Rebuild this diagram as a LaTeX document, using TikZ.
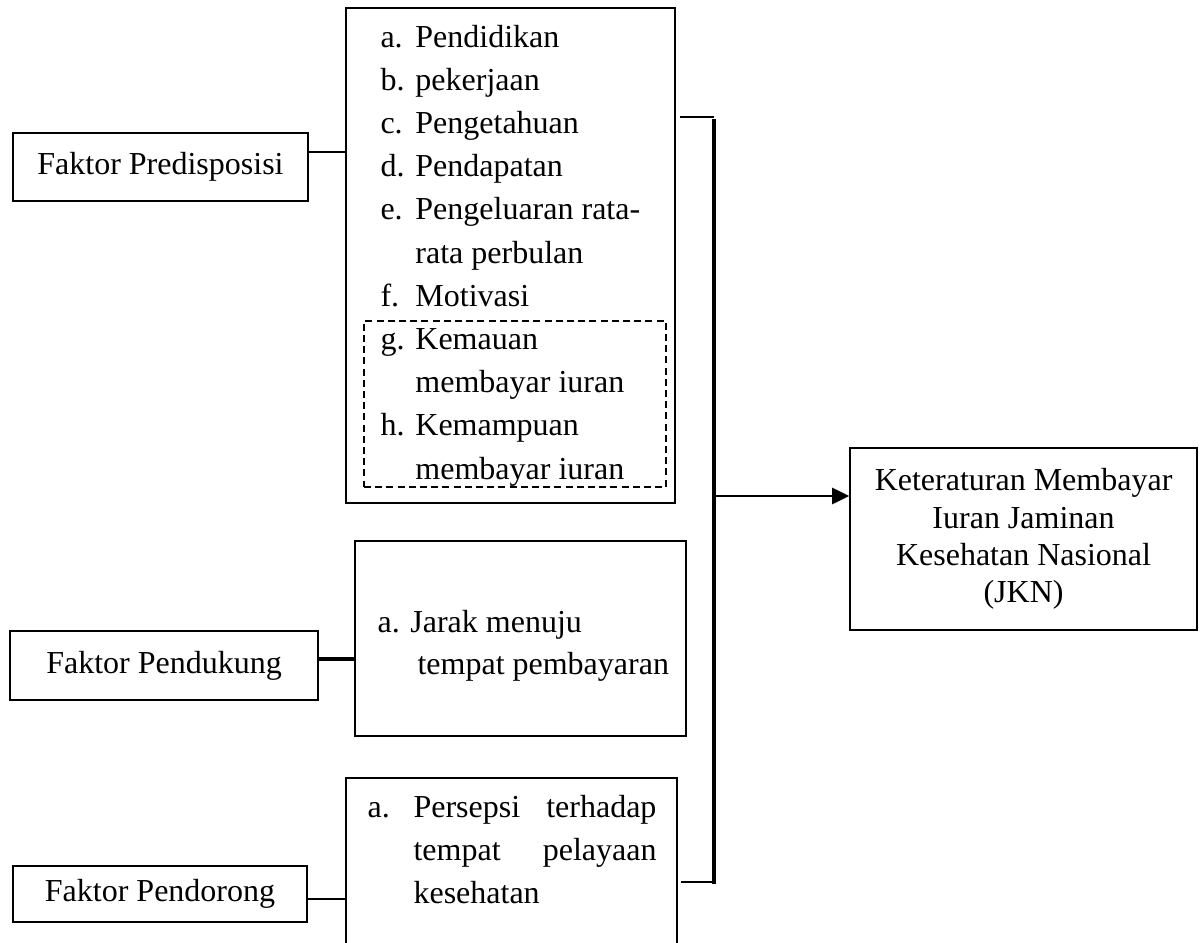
\documentclass[tikz,border=0pt]{standalone}
\usepackage{fontspec}
\setmainfont{Liberation Serif}
\usetikzlibrary{arrows.meta, positioning, calc}

\begin{document}
\begin{tikzpicture}[
    kotak/.style={rectangle,draw=black,line width=0.6pt,inner sep=0pt},
    teks/.style={font=\fontsize{12}{14}\selectfont},
    garis/.style={draw=black,line width=0.6pt}
]
    \useasboundingbox (0,0) rectangle (15.842,-12.416);

    % Faktor Predisposisi
    \node[kotak,teks,minimum width=3.888cm,minimum height=0.896cm] (pred) at (2.115,-2.201) {Faktor Predisposisi};
    \node[kotak,minimum width=4.336cm,minimum height=6.524cm] (daftar) at (6.728,-3.367) {};
    \node[kotak,dash pattern=on 2.6pt off 1.6pt,minimum width=3.980cm,minimum height=2.188cm] (pilih) at (6.788,-5.325) {};
    \node[anchor=base west,inner sep=0pt,font=\fontsize{12}{16.2}\selectfont] (isidaftar) at (5.008,-0.620) {%
        \begin{tabular}[t]{@{}p{13.1pt}@{}l@{}}
        a. & Pendidikan\\
        b. & pekerjaan\\
        c. & Pengetahuan\\
        d. & Pendapatan\\
        e. & Pengeluaran rata-\\
           & rata perbulan\\
        f. & Motivasi\\
        g. & Kemauan\\
           & membayar iuran\\
        h. & Kemampuan\\
           & membayar iuran
        \end{tabular}};

    % Faktor Pendukung
    \node[kotak,teks,line width=0.8pt,minimum width=4.059cm,minimum height=0.909cm] (pendukung) at (2.162,-8.771) {Faktor Pendukung};
    \node[kotak,line width=0.8pt,minimum width=4.363cm,minimum height=2.570cm] (jarak) at (6.860,-8.415) {};
    \node[anchor=base west,inner sep=0pt,font=\fontsize{12}{15.75}\selectfont] (isijarak) at (4.969,-8.330) {%
        \begin{tabular}[t]{@{}l@{}}
        a. Jarak menuju\\
        \hspace*{15pt}tempat pembayaran
        \end{tabular}};

    % Faktor Pendorong
    \node[kotak,teks,minimum width=3.875cm,minimum height=0.738cm] (pendorong) at (2.109,-11.783) {Faktor Pendorong};
    \node[kotak,minimum width=4.363cm,minimum height=3.058cm] (persepsi) at (6.742,-11.783) {};
    \node[anchor=base west,inner sep=0pt,font=\fontsize{12}{16.3}\selectfont] (isipersepsi) at (4.837,-10.768) {%
        \begin{tabular}[t]{@{}p{17.25pt}@{}l@{}}
        a. & \makebox[91.1pt][s]{Persepsi terhadap}\\
           & \makebox[91.1pt][s]{tempat pelayaan}\\
           & kesehatan
        \end{tabular}};

    % Keteraturan membayar iuran
    \node[kotak,teks,align=center,minimum width=4.573cm,minimum height=2.399cm] (jkn) at (13.490,-7.104) {Keteraturan Membayar\\Iuran Jaminan\\Kesehatan Nasional\\(JKN)};

    % garis penghubung
    \coordinate (c1) at ($(pred.east)+(0,0.198)$);
    \draw[garis] (c1) -- (c1 -| daftar.west);
    \coordinate (c2) at ($(pendukung.east)+(0,0.086)$);
    \draw[garis,line width=1.2pt] (c2) -- (c2 -| jarak.west);
    \coordinate (c3) at ($(pendorong.east)+(0,-0.066)$);
    \draw[garis] (c3) -- (c3 -| persepsi.west);

    % garis tegak dan panah
    \coordinate (kait) at (9.411,-1.542);
    \coordinate (atas) at (9.411,-1.595);
    \coordinate (bawah) at (9.411,-11.625);
    \draw[garis] ($(kait -| daftar.east)+(0.053,0)$) -- (kait);
    \draw[garis,line width=0.9pt] ($(bawah -| persepsi.east)+(0.04,0)$) -- (bawah);
    \draw[garis,line width=1.4pt,line cap=rect] (bawah) -- (atas);
    \coordinate (panah) at (9.411,-6.537);
    \draw[garis,line width=1pt,-{Triangle[length=6.4pt,width=6pt]}] (panah) -- (panah -| jkn.west);
\end{tikzpicture}
\end{document}
